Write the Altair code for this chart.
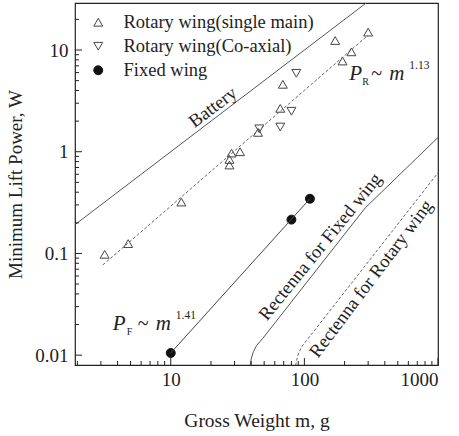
import altair as alt
import pandas as pd

FONT = "Liberation Serif"

# ---------------- data ----------------
series_names = ["Rotary wing(single main)", "Rotary wing(Co-axial)", "Fixed wing"]

rs_m = [3.2, 4.8, 12, 27.5, 27.5, 28.5, 33, 45, 66, 69, 170, 193, 225, 300]
rs_p = [0.098, 0.125, 0.32, 0.74, 0.84, 0.97, 1.0, 1.55, 2.67, 4.6, 12.4, 7.8, 9.6, 15]
rc_m = [46, 66, 80, 87]
rc_p = [1.68, 1.75, 2.5, 5.9]
fw_m = [10, 80, 110]
fw_p = [0.0105, 0.215, 0.345]

battery_m = [1.92, 290]
battery_p = [0.192, 29]
fitR_m = [3.1, 300]
fitR_p = [0.077, 14]
fitF_m = [10, 110]
fitF_p = [0.0105, 0.345]
rectF_m = [39.3, 40, 41.5, 44, 48.6, 285, 1000]
rectF_p = [0.0079, 0.0092, 0.0108, 0.0125, 0.0145, 0.28, 1.38]
rectR_m = [86, 89, 95, 1000]
rectR_p = [0.0079, 0.0098, 0.012, 0.62]

x_major = [10, 100, 1000]
x_minor = [2, 3, 4, 5, 6, 7, 8, 9, 20, 30, 40, 50, 60, 70, 80, 90,
           200, 300, 400, 500, 600, 700, 800, 900]
y_major = [0.01, 0.1, 1, 10]
y_minor = [0.02, 0.03, 0.04, 0.05, 0.06, 0.07, 0.08, 0.09,
           0.2, 0.3, 0.4, 0.5, 0.6, 0.7, 0.8, 0.9,
           2, 3, 4, 5, 6, 7, 8, 9, 20]

W, H = 363, 362
xs = alt.Scale(type="log", domain=[1.92, 1000], nice=False)
ys = alt.Scale(type="log", domain=[0.008, 29], nice=False)

x_axis = alt.Axis(
    values=x_major, format="~g", ticks=False, domain=False, grid=False,
    labelFont=FONT, labelFontSize=19, labelColor="#222", labelPadding=5,
    title="Gross Weight m, g", titleFont=FONT, titleFontSize=19.5,
    titleFontWeight="normal", titleColor="#222", titlePadding=22)
y_axis = alt.Axis(
    values=y_major, format="~g", ticks=False, domain=False, grid=False,
    labelFont=FONT, labelFontSize=19, labelColor="#222", labelPadding=7,
    title="Minimum Lift Power, W", titleFont=FONT, titleFontSize=19,
    titleFontWeight="normal", titleColor="#222", titlePadding=9)


def X(field):
    return alt.X(field, scale=xs, axis=x_axis)


def Y(field):
    return alt.Y(field, scale=ys, axis=y_axis)


# ---------------- points ----------------
pts = pd.DataFrame({
    "m": rs_m + rc_m + fw_m,
    "p": rs_p + rc_p + fw_p,
    "series": [series_names[0]] * len(rs_m) + [series_names[1]] * len(rc_m)
              + [series_names[2]] * len(fw_m),
})

leg = alt.Legend(title=None, orient="none", legendX=14, legendY=10,
                 labelFont=FONT, labelFontSize=18.5, labelColor="#222",
                 symbolStrokeWidth=1, rowPadding=5, labelOffset=16, padding=0,
                 labelLimit=400)

points = alt.Chart(pts).mark_point(filled=False, strokeWidth=1, opacity=1).encode(
    x=X("m:Q"),
    y=Y("p:Q"),
    shape=alt.Shape("series:N", scale=alt.Scale(domain=series_names,
                    range=["triangle-up", "triangle-down", "circle"]), legend=leg),
    fill=alt.Fill("series:N", scale=alt.Scale(domain=series_names,
                  range=["transparent", "transparent", "#111"]), legend=leg),
    stroke=alt.Stroke("series:N", scale=alt.Scale(domain=series_names,
                      range=["#444", "#444", "#111"]), legend=leg),
    size=alt.Size("series:N", scale=alt.Scale(domain=series_names,
                  range=[80, 80, 32]), legend=leg),
)


# ---------------- lines ----------------
def line(ms, ps, dash=None, color="#555", width=1.0):
    df = pd.DataFrame({"m": ms, "p": ps})
    kw = dict(color=color, strokeWidth=width, clip=True)
    if dash:
        kw["strokeDash"] = dash
    return alt.Chart(df).mark_line(**kw).encode(x=X("m:Q"), y=Y("p:Q"))


l_batt = line(battery_m, battery_p)
l_fitR = line(fitR_m, fitR_p, dash=[3, 2], color="#555", width=0.9)
l_fitF = line(fitF_m, fitF_p, color="#444")
l_rectF = line(rectF_m, rectF_p)
l_rectR = line(rectR_m, rectR_p, dash=[3, 2], color="#555", width=0.9)


# ---------------- inward ticks ----------------
def xticks(vals, ln):
    return alt.Chart(pd.DataFrame({"v": vals})).mark_rule(color="#222", strokeWidth=1).encode(
        x=X("v:Q"), y=alt.value(H), y2=alt.value(H - ln))


def yticks(vals, ln):
    return alt.Chart(pd.DataFrame({"v": vals})).mark_rule(color="#222", strokeWidth=1).encode(
        y=Y("v:Q"), x=alt.value(0), x2=alt.value(ln))


# ---------------- annotations ----------------
def label(m, p, text, angle=0, size=17, italic=False, dx=0, dy=0, align="center",
          baseline="middle"):
    df = pd.DataFrame({"m": [m], "p": [p], "t": [text]})
    kw = dict(font=FONT, fontSize=size, color="#222", align=align,
              baseline=baseline, dx=dx, dy=dy)
    if angle:
        kw["angle"] = angle
    if italic:
        kw["fontStyle"] = "italic"
    return alt.Chart(df).mark_text(**kw).encode(x=X("m:Q"), y=Y("p:Q"), text="t:N")


labels = [
    label(20.6, 2.75, "Battery", angle=323, size=18.5),
    label(131, 0.117, "Rectenna for Fixed wing", angle=309, size=18.5),
    label(315, 0.0567, "Rectenna for Rotary wing", angle=307, size=18.5),
    # P_R ~ m^1.13
    label(217, 5.07, "P", size=21, italic=True, align="left", baseline="alphabetic"),
    label(217, 5.07, "R", size=10, align="left", baseline="alphabetic", dx=13, dy=5),
    label(217, 5.07, "~", size=20, align="left", baseline="alphabetic", dx=22),
    label(217, 5.07, "m", size=21, italic=True, align="left", baseline="alphabetic", dx=40),
    label(217, 5.07, "1.13", size=11.5, align="left", baseline="alphabetic", dx=60, dy=-11),
    # P_F ~ m^1.41
    label(3.68, 0.0176, "P", size=21, italic=True, align="left", baseline="alphabetic"),
    label(3.68, 0.0176, "F", size=10, align="left", baseline="alphabetic", dx=14, dy=5),
    label(3.68, 0.0176, "~", size=20, align="left", baseline="alphabetic", dx=25),
    label(3.68, 0.0176, "m", size=21, italic=True, align="left", baseline="alphabetic", dx=43),
    label(3.68, 0.0176, "1.41", size=11.5, align="left", baseline="alphabetic", dx=63, dy=-11),
]

chart = alt.layer(
    points,
    l_batt, l_fitR, l_fitF, l_rectF, l_rectR,
    xticks(x_major, 7), xticks(x_minor, 4),
    yticks(y_major, 7), yticks(y_minor, 4),
    *labels,
).properties(
    width=W, height=H,
    padding={"left": 75, "top": 3, "right": 21, "bottom": 71},
    autosize=alt.AutoSizeParams(type="none"),
    background="white",
).configure_view(
    stroke="#222", strokeWidth=1.2
)

chart.save("out.html", embed_options={"renderer": "svg", "actions": False})
